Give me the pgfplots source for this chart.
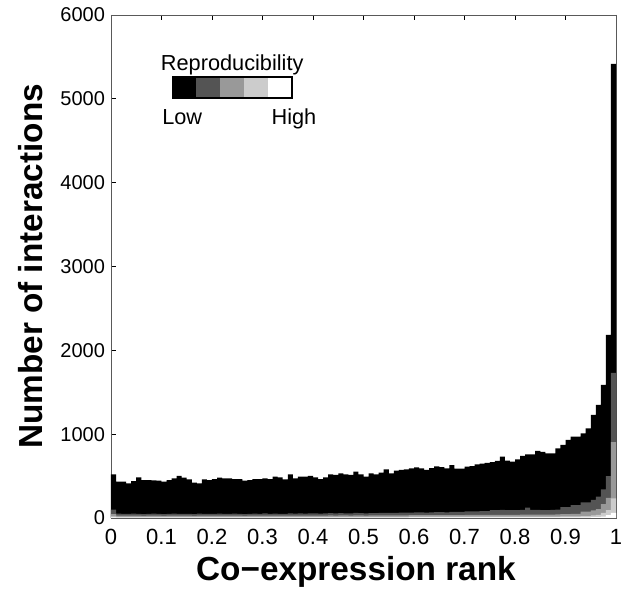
\documentclass[border=0pt]{standalone}
\usepackage{pgfplots}
\usepackage{pgfplotstable}
\pgfplotsset{compat=1.18}
\usepackage{fontspec}
\setmainfont{Liberation Sans}
\definecolor{gA}{gray}{0.33}
\definecolor{gB}{gray}{0.60}
\definecolor{gC}{gray}{0.80}
\pgfplotstableread{
x T D M L W
0.00 521 100 45 20 6
0.01 433 52 28 13 5
0.02 433 50 27 13 5
0.03 414 48 27 12 5
0.04 441 52 28 13 5
0.05 485 50 28 13 5
0.06 453 47 26 12 5
0.07 453 50 28 13 5
0.08 449 52 28 13 5
0.09 445 48 27 12 5
0.10 433 46 26 12 5
0.11 453 50 28 13 5
0.12 473 52 28 13 5
0.13 501 50 28 13 5
0.14 481 48 27 12 5
0.15 461 50 28 13 5
0.16 421 46 26 12 5
0.17 414 52 28 13 5
0.18 461 50 28 13 5
0.19 453 48 27 12 5
0.20 465 50 28 13 5
0.21 481 52 28 13 5
0.22 473 50 28 13 5
0.23 473 48 27 12 5
0.24 465 52 28 13 5
0.25 465 50 28 13 5
0.26 445 46 26 12 5
0.27 453 50 28 13 5
0.28 465 52 28 13 5
0.29 465 50 28 13 5
0.30 473 54 29 13 5
0.31 465 50 28 13 5
0.32 493 52 28 13 5
0.33 485 50 28 13 5
0.34 461 48 27 12 5
0.35 521 55 29 13 5
0.36 473 52 28 13 5
0.37 493 54 29 13 5
0.38 493 52 28 13 5
0.39 501 55 29 13 5
0.40 485 54 29 13 5
0.41 465 52 28 13 5
0.42 485 55 29 13 5
0.43 521 57 30 14 5
0.44 513 55 29 13 5
0.45 533 58 30 14 5
0.46 521 56 30 14 5
0.47 513 55 29 13 5
0.48 553 60 31 14 5
0.49 521 57 30 14 5
0.50 493 55 29 13 5
0.51 533 58 30 14 5
0.52 521 57 30 14 5
0.53 541 60 31 14 5
0.54 581 62 32 14 5
0.55 533 60 31 14 5
0.56 565 62 32 14 5
0.57 573 63 32 14 5
0.58 581 64 32 14 5
0.59 593 65 33 15 6
0.60 605 66 33 15 6
0.61 593 66 33 15 6
0.62 573 64 33 15 6
0.63 595 68 34 15 6
0.64 615 70 34 15 6
0.65 608 70 34 15 6
0.66 592 68 34 15 6
0.67 632 74 35 15 6
0.68 588 72 35 15 6
0.69 590 74 35 15 6
0.70 612 78 36 16 6
0.71 620 80 36 16 6
0.72 640 80 36 16 6
0.73 648 82 37 16 6
0.74 658 82 37 16 6
0.75 665 95 38 16 6
0.76 682 95 38 16 6
0.77 732 97 38 16 6
0.78 684 95 38 16 6
0.79 672 93 38 16 6
0.80 700 95 38 16 6
0.81 740 97 39 16 6
0.82 760 123 40 16 6
0.83 760 98 40 16 6
0.84 800 96 40 16 6
0.85 790 95 40 16 6
0.86 772 95 40 16 6
0.87 772 97 41 17 6
0.88 831 100 42 17 6
0.89 871 130 45 18 6
0.90 931 130 45 18 6
0.91 970 155 48 18 6
0.92 970 155 50 19 7
0.93 1010 187 75 22 8
0.94 1070 187 75 22 8
0.95 1229 215 90 30 10
0.96 1348 255 107 36 10
0.97 1587 340 165 60 15
0.98 2184 500 240 95 35
0.99 5418 1730 905 235 60
1.00 5418 1730 905 235 60
}\data
\begin{document}
\begin{tikzpicture}
\begin{axis}[
  name=ax,
  scale only axis,
  width=378.75pt, height=377.25pt,
  xmin=0, xmax=1, ymin=0, ymax=6000,
  xtick={0,0.1,...,1.01},
  xticklabels={0,0.1,0.2,0.3,0.4,0.5,0.6,0.7,0.8,0.9,1},
  ytick={0,1000,...,6000},
  tick align=inside,
  major tick length=4pt,
  every tick/.style={black, line width=0.5pt},
  axis line style={gray!70!black, line width=0.6pt},
  /pgf/number format/1000 sep={},
  /pgf/number format/assume math mode=true,
  yticklabel style={xshift=-1pt, font=\fontsize{15}{18}\selectfont},
  xticklabel style={yshift=-5pt, font=\fontsize{16.5}{19}\selectfont},
  xlabel={Co\textminus expression rank},
  ylabel={Number of interactions},
  every axis x label/.style={at={(axis description cs:0.485,-0.125)}, anchor=base, font=\fontsize{25}{30}\selectfont\bfseries},
  every axis y label/.style={at={(axis description cs:-0.16,0.5)}, rotate=90, anchor=center, font=\fontsize{25}{30}\selectfont\bfseries},
]
\addplot[fill=black, draw=none, const plot mark left] table[x=x,y=T]{\data} \closedcycle;
\addplot[fill=gA, draw=none, const plot mark left] table[x=x,y=D]{\data} \closedcycle;
\addplot[fill=gB, draw=none, const plot mark left] table[x=x,y=M]{\data} \closedcycle;
\addplot[fill=gC, draw=none, const plot mark left] table[x=x,y=L]{\data} \closedcycle;
\addplot[fill=white, draw=none, const plot mark left] table[x=x,y=W]{\data} \closedcycle;
% colour-bar key
\fill[black] (rel axis cs:0.122,0.835) rectangle (rel axis cs:0.1692,0.877);
\fill[gA] (rel axis cs:0.1692,0.835) rectangle (rel axis cs:0.2164,0.877);
\fill[gB] (rel axis cs:0.2164,0.835) rectangle (rel axis cs:0.2636,0.877);
\fill[gC] (rel axis cs:0.2636,0.835) rectangle (rel axis cs:0.3108,0.877);
\fill[white] (rel axis cs:0.3108,0.835) rectangle (rel axis cs:0.358,0.877);
\draw[black, line width=1.2pt] (rel axis cs:0.122,0.835) rectangle (rel axis cs:0.358,0.877);
\node[anchor=base, inner sep=0pt, font=\fontsize{16.3}{19}\selectfont] at (rel axis cs:0.24,0.889) {Reproducibility};
\node[anchor=base west, inner sep=0pt, font=\fontsize{16.3}{19}\selectfont] at (rel axis cs:0.101,0.783) {Low};
\node[anchor=base east, inner sep=0pt, font=\fontsize{16.3}{19}\selectfont] at (rel axis cs:0.407,0.783) {High};
\end{axis}
\pgfresetboundingbox
\path[use as bounding box] ([xshift=-83.25pt,yshift=-60pt]ax.south west) rectangle ([xshift=12pt,yshift=11.25pt]ax.north east);
\end{tikzpicture}
\end{document}
